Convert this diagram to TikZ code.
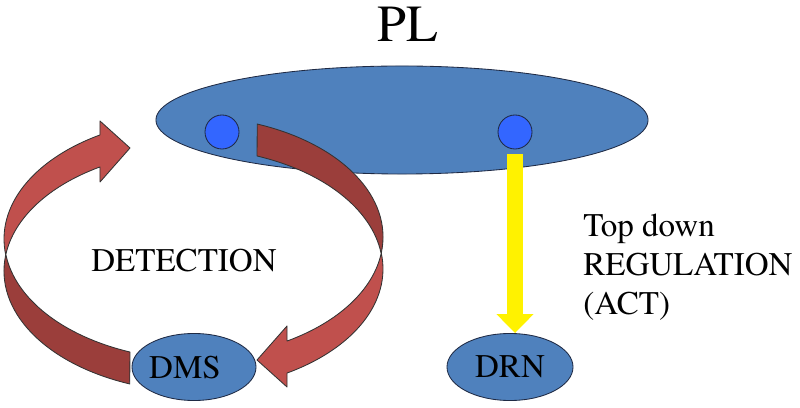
\documentclass[tikz,border=0pt]{standalone}
\usepackage[T1]{fontenc}
\usepackage{mathptmx}
\usetikzlibrary{shapes.geometric,arrows.meta}
\definecolor{plblue}{HTML}{4F81BD}
\definecolor{dotblue}{HTML}{3366FF}
\definecolor{redfront}{HTML}{C0504D}
\definecolor{redback}{HTML}{9B3E3B}
\definecolor{rim}{HTML}{1F2A44}

\begin{document}
\begin{tikzpicture}[x=0.025cm,y=0.025cm,line join=round,font=\fontsize{23.5}{27.7}\selectfont,
    region/.style={ellipse,draw=rim,fill=plblue,line width=0.6pt,inner sep=0pt},
    dot/.style={circle,draw=rim,fill=dotblue,line width=0.6pt,minimum size=0.85cm,inner sep=0pt},
    band/.style={draw=black!80,line width=0.6pt}]
    \useasboundingbox (0,0) rectangle (800,407);
    \node[region,minimum width=12.3cm,minimum height=2.7cm] (pl) at (402,287) {};
    \node[anchor=base,font=\fontsize{37}{40}\selectfont] (pltext) at (408,365) {PL};
    \foreach \p/\x in {pa/222,pb/515}
    \node[dot] (\p) at (\x,275) {};
    % the two curved arrows, the second one turned half round
    \foreach \r in {0,180}{
        \begin{scope}[rotate around={\r:(193.5,153)}]
            \filldraw[band,fill=redfront] (200,168) ++(120.7:196 and 121)
            arc[start angle=120.7,end angle=187.6,x radius=196,y radius=121]
            arc[start angle=172.4,end angle=120.7,x radius=196,y radius=121]
            -- (100,225) -- (130,259) -- (100,286) -- cycle;
            \filldraw[band,fill=redback] (5.7,152)
            arc[start angle=172.4,end angle=249,x radius=196,y radius=121]
            -- (130,55)
            arc[start angle=249,end angle=187.6,x radius=196,y radius=121] -- cycle;
        \end{scope}
    }
    \node[anchor=base] (detect) at (184,135) {DETECTION};
    \node[region,minimum width=3.1cm,minimum height=1.675cm,
        label={[xshift=-0.225cm]center:DMS}] (dms) at (194,40) {};
    \node[region,minimum width=3.15cm,minimum height=1.675cm] (drn) at (510,40) {DRN};
    \draw[yellow,line width=0.4cm,-{Triangle[width=0.9cm,length=0.475cm]}]
    ([yshift=-0.125cm]pb.south) -- (pb.south |- drn.north);
    \node[anchor=west,align=left,inner sep=0pt] (reg) at (583,140) {Top down\\REGULATION\\(ACT)};
\end{tikzpicture}
\end{document}
